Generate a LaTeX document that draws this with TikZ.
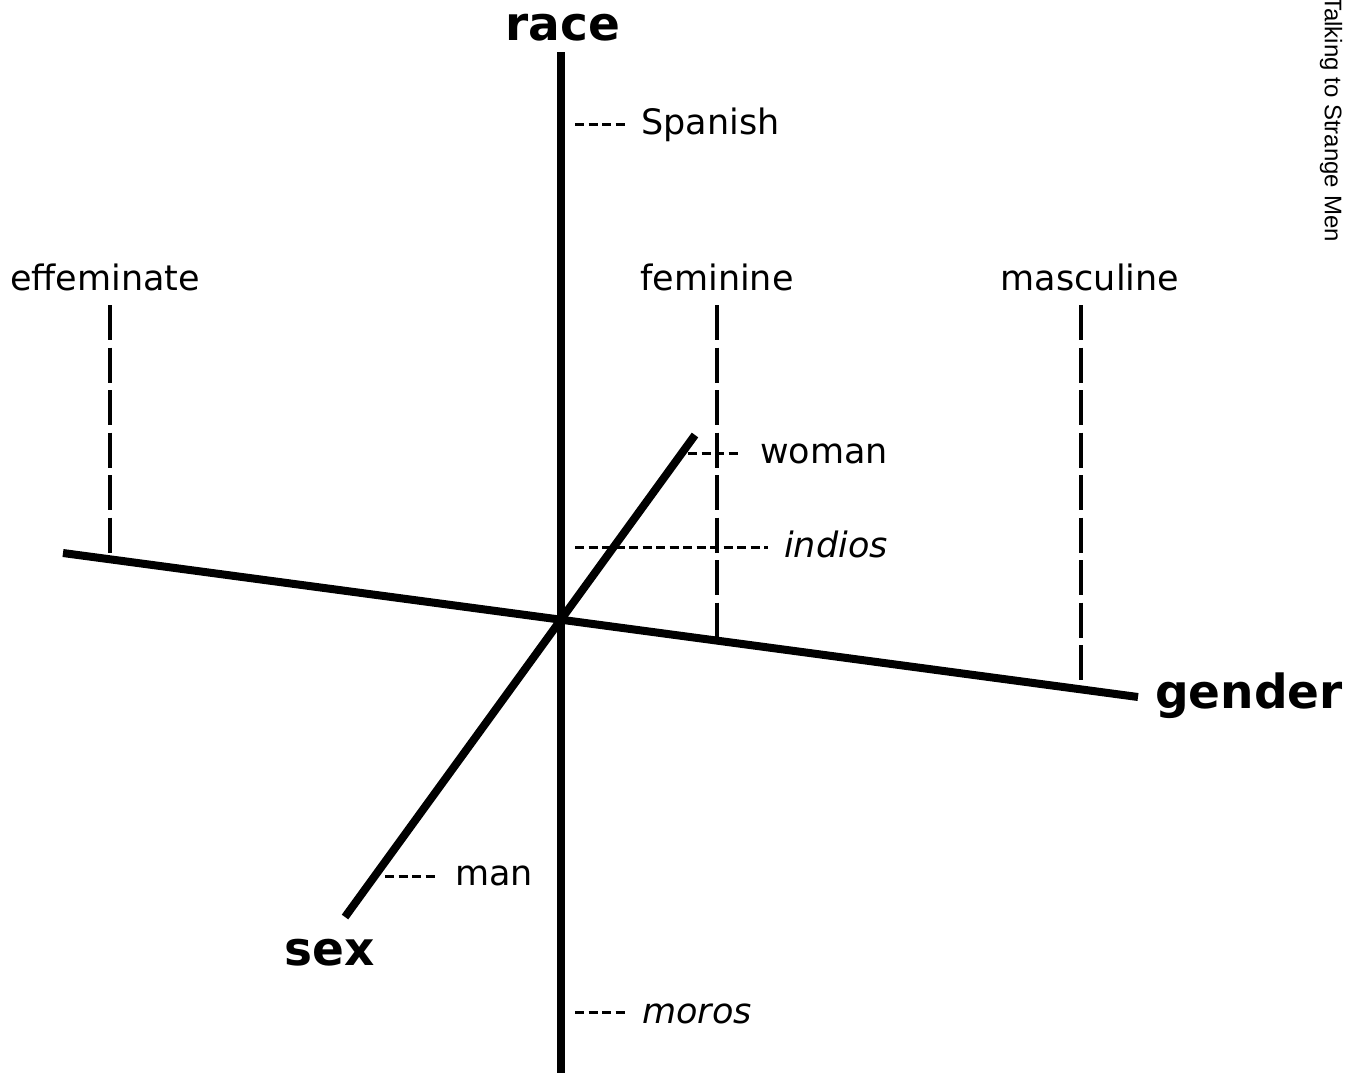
\documentclass[tikz,border=0pt]{standalone}
\usepackage{fontspec}
\setmainfont{DejaVu Sans}
\newfontfamily\sidefont{Liberation Sans}
\begin{document}
\begin{tikzpicture}[x=1pt,y=-1pt,
  axis/.style={line width=8pt},
  tick/.style={line width=3pt,dash pattern=on 9pt off 4.5pt},
  guide/.style={line width=3.5pt,dash pattern=on 35pt off 7.5pt},
  lab/.style={inner sep=0pt,font=\fontsize{35}{42}\selectfont},
  ilab/.style={inner sep=0pt,font=\fontsize{35}{42}\selectfont\itshape},
  blab/.style={inner sep=0pt,font=\fontsize{47}{56}\selectfont\bfseries}]
\useasboundingbox (0,0) rectangle (1368,1072);
\clip (0,0) rectangle (1368,1072);
% axis end points
\coordinate (raceTop) at (561,52);
\coordinate (raceBot) at (561,1080);
\coordinate (genL) at (63,553);
\coordinate (genR) at (1138,697);
\coordinate (sexB) at (345,917);
\coordinate (sexT) at (695,435);
\draw[axis] (raceTop) -- (raceBot);
\draw[axis] (genL) -- (genR);
\draw[axis] (sexB) -- (sexT);
% axis labels
\node[blab,anchor=base] (race) at (563,40) {race};
\node[blab,anchor=base west] (gender) at (1155,708) {gender};
\node[blab,anchor=base] (sex) at (330,965) {sex};
% top labels
\node[lab,anchor=base] (eff) at (105,290) {effeminate};
\node[lab,anchor=base] (fem) at (717,290) {feminine};
\node[lab,anchor=base] (masc) at (1090,290) {masculine};
% vertical guides
\coordinate (effA) at (110,305); \coordinate (effB) at (110,553);
\coordinate (femA) at (717,305); \coordinate (femB) at (717,638);
\coordinate (mascA) at (1081,305); \coordinate (mascB) at (1081,682);
\draw[guide] (effA) -- (effB);
\draw[guide] (femA) -- (femB);
\draw[guide] (mascA) -- (mascB);
% side labels
\node[lab,anchor=base west] (spanish) at (641,134) {Spanish};
\node[lab,anchor=base west] (woman) at (760,463) {woman};
\node[ilab,anchor=base west] (indios) at (784,557) {indios};
\node[lab,anchor=base west] (man) at (455,885) {man};
\node[ilab,anchor=base west] (moros) at (642,1023) {moros};
% ticks
\coordinate (spA) at (575,124); \coordinate (spB) at (626,124);
\coordinate (woA) at (688,453); \coordinate (woB) at (742,453);
\coordinate (inA) at (575,547); \coordinate (inB) at (768,547);
\coordinate (maA) at (385,876); \coordinate (maB) at (439,876);
\coordinate (moA) at (575,1012); \coordinate (moB) at (626,1012);
\draw[tick] (spA) -- (spB);
\draw[tick] (woA) -- (woB);
\draw[tick] (inA) -- (inB);
\draw[tick] (maA) -- (maB);
\draw[tick] (moA) -- (moB);
% side caption
\node[inner sep=0pt,rotate=-90,font=\sidefont\fontsize{24}{28}\selectfont] (cap) at (1331,119) {Talking to Strange Men};
\end{tikzpicture}
\end{document}
